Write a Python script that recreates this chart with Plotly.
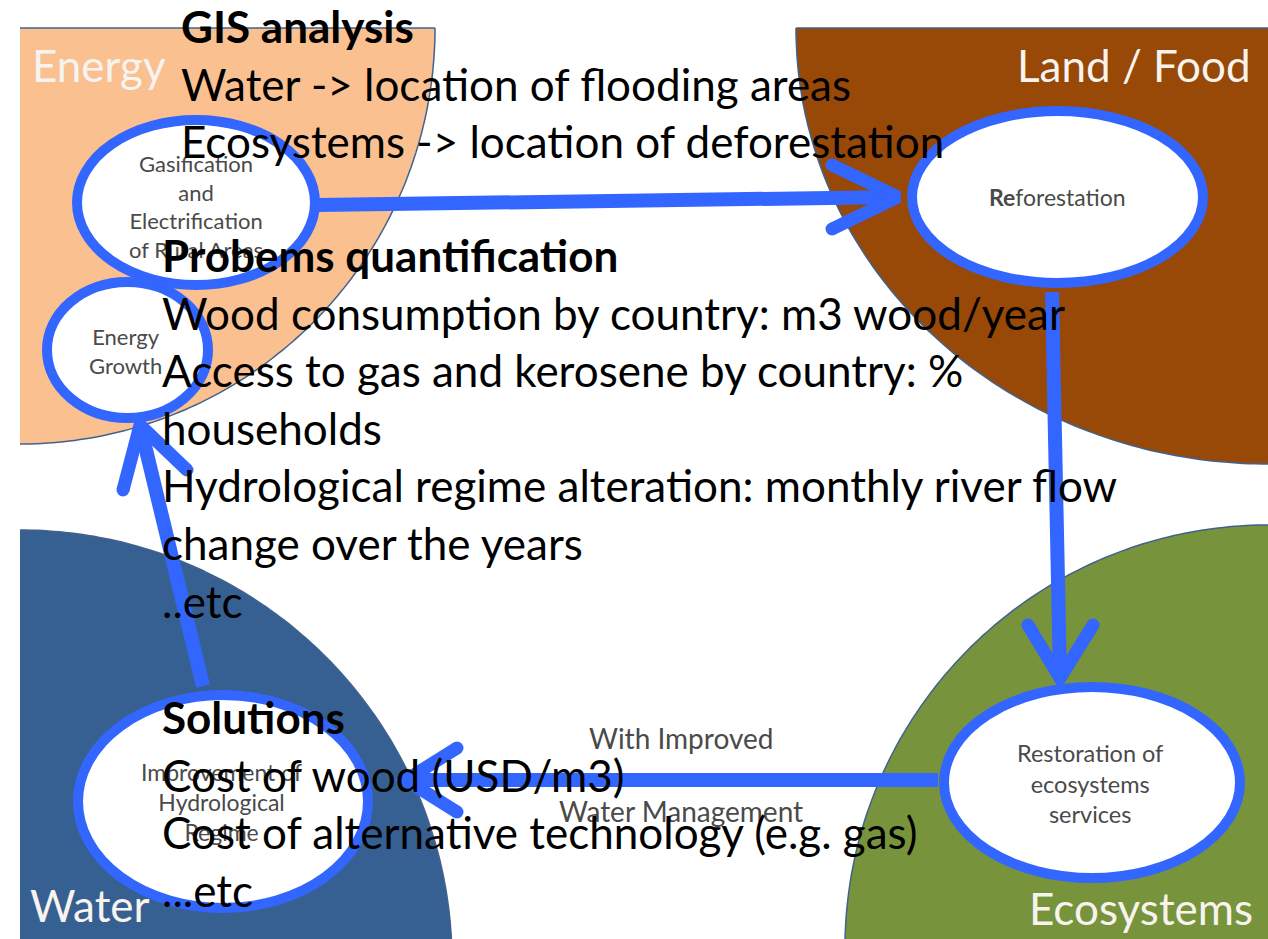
import numpy as np
import plotly.graph_objects as go

W, H = 1268, 939

# ---- text content ----
gis_lines = ["GIS analysis", "Water -> location of flooding areas", "Ecosystems -> location of deforestation"]
prob_lines = ["Probems quantification", "Wood consumption by country: m3 wood/year",
              "Access to gas and kerosene by country: %", "households",
              "Hydrological regime alteration: monthly river flow", "change over the years", "..etc"]
sol_lines = ["Solutions", "Cost of wood (USD/m3)", "Cost of alternative technology (e.g. gas)", "...etc"]
quadrant_names = ["Energy", "Land / Food", "Water", "Ecosystems"]
quadrant_colors = ["#FAC090", "#984807", "#376092", "#77933C"]
node_labels = ["Gasification<br>and<br>Electrification<br>of Rural Areas", "Energy<br>Growth",
               "<b>Re</b>forestation", "Restoration of<br>ecosystems<br>services",
               "Improvement of<br>Hydrological<br>Regime"]
edge_label_top = "With Improved"
edge_label_bottom = "Water Management"

# ---- geometry ----
quads = [
    (20, 28, 415, 416, 0, 90),
    (1268, 28, 472, 436, 90, 180),
    (20, 962, 432, 432, 270, 360),
    (1268, 948, 423, 423, 180, 270),
]
nodes = [
    (77, 120, 315, 285),
    (47, 282, 208, 418),
    (912, 111, 1203, 283),
    (944, 687, 1240, 878),
    (78, 695, 368, 908),
]
node_label_pos = [(196, 206), (125, 351), (1057, 197), (1090, 783), (221, 802)]
node_label_size = [22, 22, 23, 23.5, 23]
arrows = [
    ((318, 205), (898, 197), (832, 165), (832, 229)),
    ((1052, 292), (1060, 678), (1028, 625), (1093, 625)),
    ((938, 780), (406, 780), (457, 748), (457, 812)),
    ((203, 686), (140, 425), (123, 490), (187, 470)),
]

fig = go.Figure()
shapes = []

def arc_pts(cx, cy, rx, ry, a0, a1, n=120):
    t = np.radians(np.linspace(a0, a1, n))
    return cx + rx * np.cos(t), cy + ry * np.sin(t)

for (cx, cy, rx, ry, a0, a1), col in zip(quads, quadrant_colors):
    xs, ys = arc_pts(cx, cy, rx, ry, a0, a1)
    p = f"M {cx},{cy} " + " ".join(f"L {x:.1f},{y:.1f}" for x, y in zip(xs, ys)) + " Z"
    shapes.append(dict(type="path", path=p, fillcolor=col, line=dict(width=0), layer="below"))
    p2 = "M " + " L ".join(f"{x:.1f},{y:.1f}" for x, y in zip(xs, ys))
    shapes.append(dict(type="path", path=p2, line=dict(color="#41628F", width=1.5), layer="below"))
shapes.append(dict(type="line", x0=20, x1=435, y0=28, y1=28, line=dict(color="#41628F", width=1.5), layer="below"))
shapes.append(dict(type="line", x0=796, x1=1268, y0=28, y1=28, line=dict(color="#41628F", width=1.5), layer="below"))

arrow_col = "#3366FF"
for s, t, a1, a2 in arrows:
    fig.add_trace(go.Scatter(x=[s[0], t[0]], y=[s[1], t[1]], mode="lines",
                             line=dict(color=arrow_col, width=14), hoverinfo="skip", showlegend=False))
    fig.add_trace(go.Scatter(x=[a1[0], t[0], a2[0]], y=[a1[1], t[1], a2[1]], mode="lines",
                             line=dict(color=arrow_col, width=13), hoverinfo="skip", showlegend=False))
    fig.add_trace(go.Scatter(x=[a1[0], a2[0]], y=[a1[1], a2[1]], mode="markers",
                             marker=dict(color=arrow_col, size=13), hoverinfo="skip", showlegend=False))

for (x0, y0, x1, y1) in nodes:
    shapes.append(dict(type="circle", x0=x0, y0=y0, x1=x1, y1=y1, fillcolor="white",
                       line=dict(color=arrow_col, width=10), layer="above"))

ann = []
FONT = "Lato"
qpos = [(30, 65, "left"), (1253, 65, "right"), (28, 905, "left"), (1255, 908, "right")]
for name, (x, y, al) in zip(quadrant_names, qpos):
    ann.append(dict(x=x, y=y, text=name, xanchor=al, yanchor="middle", showarrow=False,
                    font=dict(family=FONT, size=44, color="#F7F3EF")))
for lab, (x, y), sz in zip(node_labels, node_label_pos, node_label_size):
    ann.append(dict(x=x, y=y, text=lab, xanchor="center", yanchor="middle", showarrow=False,
                    font=dict(family=FONT, size=sz, color="#4A4A4A")))
ann.append(dict(x=681, y=738, text=edge_label_top, xanchor="center", yanchor="middle", showarrow=False,
                font=dict(family=FONT, size=28, color="#4A4A4A")))
ann.append(dict(x=681, y=811, text=edge_label_bottom, xanchor="center", yanchor="middle", showarrow=False,
                font=dict(family=FONT, size=28, color="#4A4A4A")))

def block(lines, x, y0, dy=57.6):
    for i, ln in enumerate(lines):
        txt = f"<b>{ln}</b>" if i == 0 else ln
        ann.append(dict(x=x, y=y0 + i * dy, text=txt, xanchor="left", yanchor="middle", showarrow=False,
                        font=dict(family=FONT, size=44, color="black")))

block(gis_lines, 179, 26)
block(prob_lines, 160, 255)
block(sol_lines, 160, 717)

fig.update_layout(width=W, height=H, margin=dict(l=0, r=0, t=0, b=0),
                  paper_bgcolor="white", plot_bgcolor="white",
                  xaxis=dict(range=[0, W], visible=False, fixedrange=True),
                  yaxis=dict(range=[H, 0], visible=False, fixedrange=True),
                  shapes=shapes, annotations=ann, showlegend=False)

fig.write_html("out.html", config={"displayModeBar": False},
               post_script="document.body.style.margin='0';document.body.style.overflow='hidden';")
